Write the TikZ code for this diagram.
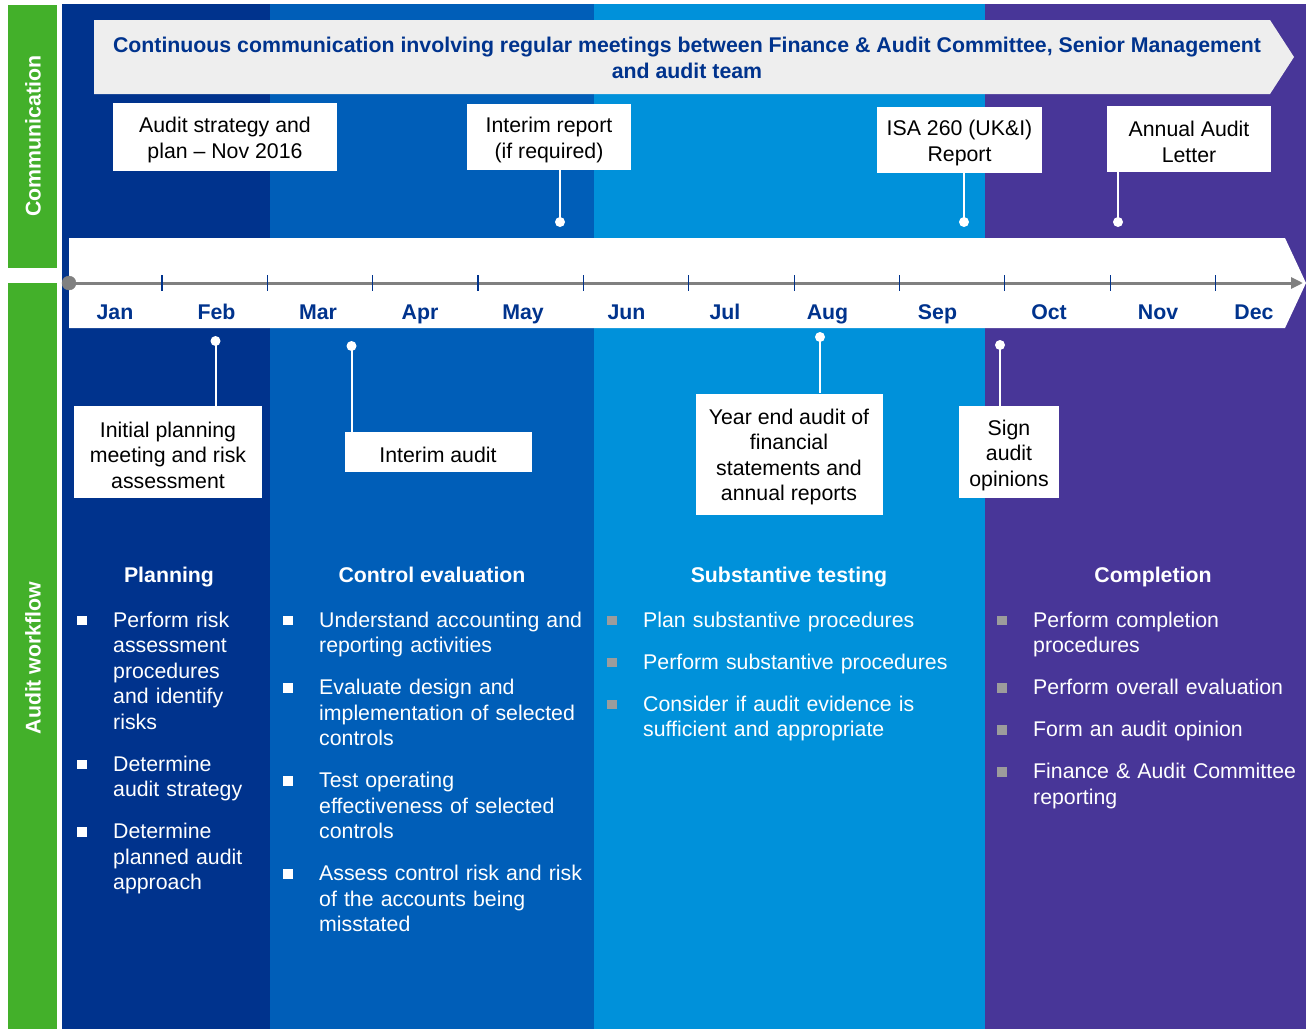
\documentclass[tikz,border=0pt]{standalone}
\usepackage{fontspec}
\setmainfont{Liberation Sans}
\usetikzlibrary{arrows.meta}

\definecolor{kdark}{HTML}{00338D}
\definecolor{kmid}{HTML}{005EB8}
\definecolor{klight}{HTML}{0091DA}
\definecolor{kpurple}{HTML}{483698}
\definecolor{kgreen}{HTML}{43B02A}
\definecolor{bannergrey}{HTML}{EEEEEE}
\definecolor{bulletgrey}{HTML}{9C9C9C}
\definecolor{axisgrey}{HTML}{808080}

\newcommand\wfsize{\fontsize{21.3}{25.5}\selectfont}
\newcommand\cotop{\rule{0pt}{21.5pt}}
\newcommand\wfbullet[1]{\raisebox{2pt}{\textcolor{#1}{\rule{9.5pt}{9.5pt}}}}
\newcommand\wfitem[2]{\hangindent=36pt\hangafter=1\noindent
  \makebox[36pt][l]{\wfbullet{#1}}#2\par}

\tikzset{
  callout/.style={fill=white,inner sep=0pt,align=center,font=\wfsize},
  month/.style={anchor=base,font=\wfsize\bfseries,text=kdark},
  phase/.style={anchor=base,font=\wfsize\bfseries,text=white},
  sidelabel/.style={rotate=90,font=\wfsize\bfseries,text=white},
  conn/.style={draw=white,line width=2pt},
  wflist/.style={anchor=base west,inner sep=0pt,text width=#1,align=left,
    font=\wfsize,text=white},
}

\begin{document}
\begin{tikzpicture}[x=1pt,y=-1pt]
  \useasboundingbox[fill=white](0,0)rectangle(1306,1029);
  \fill[kgreen](8,5)rectangle(57,268);
  \fill[kgreen](8,283)rectangle(57,1029);
  \fill[kdark](62,4)rectangle(270,1029);
  \fill[kmid](270,4)rectangle(594,1029);
  \fill[klight](594,4)rectangle(985,1029);
  \fill[kpurple](985,4)rectangle(1306,1029);
  \node[sidelabel](comm)at(33,136){Communication};
  \node[sidelabel](flow)at(33,658){Audit workflow};

  \fill[bannergrey](94,20)--(1270,20)--(1294,57)--(1270,94)--(94,94)--cycle;
  \node[anchor=base,align=center,font=\wfsize\bfseries,text=kdark](banner)at(687,78)
    {Continuous communication involving regular meetings between Finance \& Audit Committee, Senior Management\\and audit team};

  \fill[white](69,238)--(1285,238)--(1306,283)--(1285,328)--(69,328)--cycle;
  \coordinate(tstart)at(69,283);
  \coordinate(tend)at(1303,283);
  \draw[axisgrey,line width=3pt,-{Triangle[length=12pt,width=11pt]}](tstart)--(tend);
  \foreach \i in {0,...,10}
    \draw[kdark,line width=1.2pt](162+105.35*\i,275)--(162+105.35*\i,291);
  \filldraw[axisgrey](tstart)circle[radius=7];
  \foreach \m/\x in {Jan/115,Feb/216.5,Mar/318,Apr/420,May/523,Jun/626.5,
    Jul/725,Aug/827.5,Sep/937.5,Oct/1049,Nov/1158,Dec/1254}
    \node[month](\m)at(\x,319.5){\m};

  \node[callout,minimum width=224,minimum height=68](strategy)at(225,137){\cotop Audit strategy and\\plan \textendash\ Nov 2016};
  \node[callout,minimum width=164,minimum height=66](interim)at(549,137){\cotop Interim report\\(if required)};
  \node[callout,minimum width=165,minimum height=66](isa)at(959.5,140){\cotop ISA 260 (UK\&I)\\Report};
  \node[callout,minimum width=164,minimum height=66](letter)at(1189,139){\cotop Annual Audit\\Letter};
  \node[callout,minimum width=188,minimum height=92](initial)at(168,452){\cotop Initial planning\\meeting and risk\\assessment};
  \node[callout,minimum width=187,minimum height=40](interimaudit)at(438,452){\cotop Interim audit};
  \node[callout,minimum width=187,minimum height=121](yearend)at(789,454){\cotop Year end audit of\\financial\\statements and\\annual reports};
  \node[callout,minimum width=100,minimum height=92](sign)at(1009,452){\cotop Sign\\audit\\opinions};

  \foreach \n/\a/\x/\y in {interim/south/560/222,isa/south/964/222,letter/south/1118/222,
    initial/north/215.5/341,interimaudit/north/351.5/346,yearend/north/820/337,sign/north/1000/345}{
    \coordinate(d\n)at(\x,\y);
    \draw[conn](d\n)--(d\n|-\n.\a);
    \fill[white](d\n)circle[radius=5];
  }

  \node[phase](planning)at(169,582){Planning};
  \node[phase](control)at(432,582){Control evaluation};
  \node[phase](substantive)at(789,582){Substantive testing};
  \node[phase](completion)at(1153,582){Completion};

  \node[wflist=190](planlist)at(77,627){\setlength\parskip{16.5pt}%
    \wfitem{white}{Perform risk\newline assessment\newline procedures\newline and identify\newline risks}
    \wfitem{white}{Determine\newline audit strategy}
    \wfitem{white}{Determine\newline planned audit\newline approach}};
  \node[wflist=310](controllist)at(283,627){\setlength\parskip{16.5pt}%
    \wfitem{white}{Understand accounting and\newline reporting activities}
    \wfitem{white}{Evaluate design and\newline implementation of selected\newline controls}
    \wfitem{white}{Test operating\newline effectiveness of selected\newline controls}
    \wfitem{white}{Assess control risk and risk\newline of the accounts being\newline misstated}};
  \node[wflist=370](substlist)at(607,627){\setlength\parskip{16.5pt}%
    \wfitem{bulletgrey}{Plan substantive procedures}
    \wfitem{bulletgrey}{Perform substantive procedures}
    \wfitem{bulletgrey}{Consider if audit evidence is\newline sufficient and appropriate}};
  \node[wflist=305](complist)at(997,627){\setlength\parskip{16.5pt}%
    \wfitem{bulletgrey}{Perform completion\newline procedures}
    \wfitem{bulletgrey}{Perform overall evaluation}
    \wfitem{bulletgrey}{Form an audit opinion}
    \wfitem{bulletgrey}{Finance \& Audit Committee\newline reporting}};
\end{tikzpicture}
\end{document}
